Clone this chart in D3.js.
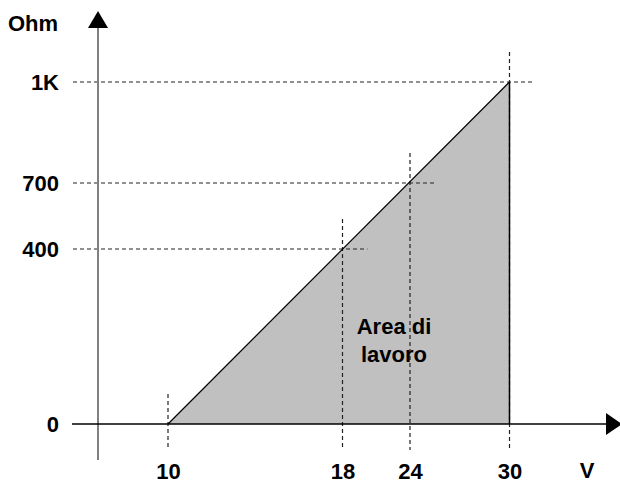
<!DOCTYPE html>
<html>
<head>
<meta charset="utf-8">
<script src="https://cdn.jsdelivr.net/npm/d3@7"></script>
<style>
  body { margin: 0; background: #fff; }
  text { font-family: "Liberation Sans", Arial, sans-serif; font-weight: bold; font-size: 22px; fill: #000; }
</style>
</head>
<body>
<div class="chart"></div>
<script>
// schematic: working area of the sensor
const volts = [10, 18, 24, 30];
const ohms = [0, 400, 700, 1000];
const ohmLabels = ['0', '400', '700', '1K'];
const areaLines = ['Area di', 'lavoro'];

const width = 620;
const height = 484;

const svg = d3.select('div.chart')
    .append('svg')
    .attr('width', width)
    .attr('height', height);

// the drawing is not to scale, so the scales are piecewise
const x = d3.scaleLinear().domain(volts).range([168, 342.5, 410, 509.5]);
const y = d3.scaleLinear().domain(ohms).range([424, 249, 183, 82]);

const x0 = 98; // y axis position
const y0 = y(0);

// grey working area
const pts = [[volts[0], ohms[0]], [volts[3], ohms[3]], [volts[3], ohms[0]]];
svg.append('path')
    .datum(pts)
    .attr('d', d3.line().x(d => x(d[0])).y(d => y(d[1])))
    .attr('fill', '#c0c0c0')
    .attr('stroke', 'none');

// dashed guides
const guides = volts.map((v, i) => ({v: v, o: ohms[i]}));
svg.selectAll('.hguide')
    .data(guides.slice(1))
    .enter()
    .append('line')
    .attr('x1', 73)
    .attr('x2', d => x(d.v) + 25)
    .attr('y1', d => y(d.o))
    .attr('y2', d => y(d.o))
    .attr('stroke', '#222')
    .attr('stroke-width', 1.2)
    .attr('stroke-dasharray', '4,3');

svg.selectAll('.vguide')
    .data(guides)
    .enter()
    .append('line')
    .attr('x1', d => x(d.v))
    .attr('x2', d => x(d.v))
    .attr('y1', d => y(d.o) - 30)
    .attr('y2', y0 + 26)
    .attr('stroke', '#222')
    .attr('stroke-width', 1.2)
    .attr('stroke-dasharray', '4,3');

// hypotenuse and right side
svg.append('line')
    .attr('x1', x(volts[0])).attr('y1', y(ohms[0]))
    .attr('x2', x(volts[3])).attr('y2', y(ohms[3]))
    .attr('stroke', '#000').attr('stroke-width', 1.2);
svg.append('line')
    .attr('x1', x(volts[3])).attr('y1', y(ohms[3]))
    .attr('x2', x(volts[3])).attr('y2', y0)
    .attr('stroke', '#000').attr('stroke-width', 1.5);

// axes lines
svg.append('line')
    .attr('x1', x0).attr('x2', x0)
    .attr('y1', 26).attr('y2', 460)
    .attr('stroke', '#808080').attr('stroke-width', 2);
svg.append('path')
    .attr('d', `M${x0 - 10},28L${x0},11L${x0 + 10},28Z`)
    .attr('fill', '#000');

svg.append('line')
    .attr('x1', 72).attr('x2', 608)
    .attr('y1', y0).attr('y2', y0)
    .attr('stroke', '#000').attr('stroke-width', 1.5);
svg.append('path')
    .attr('d', `M606,${y0 - 11}L622,${y0}L606,${y0 + 11}Z`)
    .attr('fill', '#000');

// tick labels
const xAxis = svg.append('g')
    .attr('transform', `translate(0,${y0})`)
    .call(d3.axisBottom(x).tickValues(volts).tickSize(0).tickPadding(39));
const yAxis = svg.append('g')
    .attr('transform', `translate(${x0},0)`)
    .call(d3.axisLeft(y).tickValues(ohms).tickSize(0).tickPadding(39)
        .tickFormat((d, i) => ohmLabels[i]));
[xAxis, yAxis].forEach(function(g) {
  g.select('.domain').remove();
  g.attr('font-size', null).attr('font-family', null);
  g.selectAll('text').attr('fill', null);
});

// axis titles
svg.append('text').attr('x', 8).attr('y', 31).text('Ohm');
svg.append('text').attr('x', 587).attr('y', 478)
    .attr('text-anchor', 'middle').text('V');

// label inside the area
svg.selectAll('.area-label')
    .data(areaLines)
    .enter()
    .append('text')
    .attr('x', 394)
    .attr('y', (d, i) => 334 + i * 28)
    .attr('text-anchor', 'middle')
    .text(d => d);
</script>
</body>
</html>
